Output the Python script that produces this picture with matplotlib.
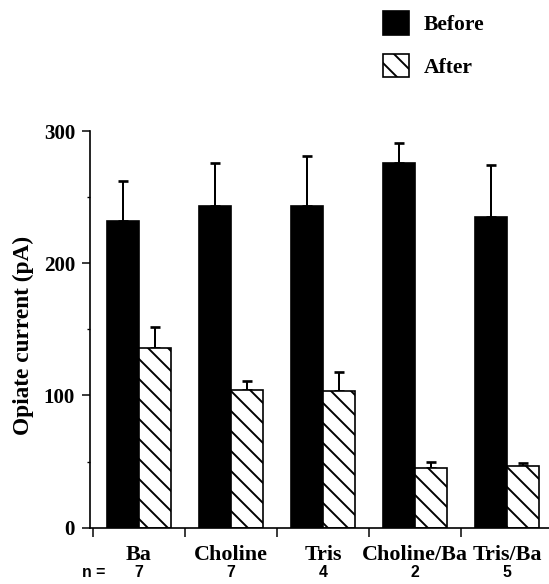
import numpy as np
import matplotlib
matplotlib.use("Agg")
import matplotlib.pyplot as plt
import matplotlib.transforms as mtransforms
from matplotlib.patches import Patch
from matplotlib.ticker import MultipleLocator, FixedLocator, NullFormatter

# Solutions and group sizes
categories = ["Ba", "Choline", "Tris", "Choline/Ba", "Tris/Ba"]
n_cells = [7, 7, 4, 2, 5]

# Opiate current (pA), mean and SEM
before_mean = [232, 243, 243, 276, 235]
before_sem = [30, 33, 38, 15, 39]
after_mean = [136, 104, 103, 45, 47]
after_sem = [16, 7, 15, 5, 2]

DPI = 120
HATCH = "\\\\"
plt.rcParams["hatch.linewidth"] = 1.15
plt.rcParams["hatch.color"] = "black"
serif = ["Liberation Serif", "DejaVu Serif"]
sans = ["Liberation Sans", "DejaVu Sans"]

fig = plt.figure(figsize=(549 / DPI, 584 / DPI), dpi=DPI)
ax = fig.add_axes([90 / 549, 1 - 527.7 / 584, (549 - 90) / 549, (527.7 - 131) / 584])

x = np.arange(len(categories))
w = 0.35
ax.bar(x - w, before_mean, width=w, align="edge", color="black",
       edgecolor="black", linewidth=1.0, zorder=2)
ax.bar(x, after_mean, width=w, align="edge", color="white",
       edgecolor="black", linewidth=1.0, hatch=HATCH, zorder=2)

ax.errorbar(x - w / 2, before_mean, yerr=[np.zeros(len(x)), before_sem],
            fmt="none", ecolor="black", elinewidth=1.2, capsize=3, capthick=1.6, zorder=3)
ax.errorbar(x + w / 2, after_mean, yerr=[np.zeros(len(x)), after_sem],
            fmt="none", ecolor="black", elinewidth=1.2, capsize=3, capthick=1.6, zorder=1)

ax.set_xlim(-0.533, 4.457)
ax.set_ylim(0, 300)

for side in ("top", "right"):
    ax.spines[side].set_visible(False)
for side in ("left", "bottom"):
    ax.spines[side].set_linewidth(1.0)

ax.yaxis.set_major_locator(MultipleLocator(100))
ax.yaxis.set_minor_locator(MultipleLocator(50))
ax.tick_params(axis="y", which="major", direction="out", length=4.8, width=0.9, pad=4.2)
ax.tick_params(axis="y", which="minor", direction="out", length=2.0, width=0.8)
ax.set_yticks([0, 100, 200, 300])
ax.set_yticklabels(["0", "100", "200", "300"], fontfamily=serif,
                   fontweight="bold", fontsize=12.6)

ax.xaxis.set_major_locator(FixedLocator(x - 0.5))
ax.xaxis.set_major_formatter(NullFormatter())
ax.tick_params(axis="x", which="major", direction="out", length=5.4, width=0.9)

# Category names and cell counts under each pair of bars
trans = mtransforms.blended_transform_factory(ax.transData, fig.transFigure)
for xi, name, n in zip(x, categories, n_cells):
    ax.text(xi, 1 - 555.5 / 584, name, transform=trans, ha="center", va="center",
            fontfamily=serif, fontweight="bold", fontsize=13.2, clip_on=False)
    ax.text(xi, 1 - 572.5 / 584, str(n), transform=trans, ha="center", va="center",
            fontfamily=sans, fontweight="bold", fontsize=9.5, clip_on=False)
fig.text(94 / 549, 1 - 572.5 / 584, "n =", ha="center", va="center",
         fontfamily=sans, fontweight="bold", fontsize=9.5)

fig.text(23 / 549, 1 - 335 / 584, "Opiate current (pA)", rotation=90,
         ha="center", va="center", fontfamily=serif, fontweight="bold", fontsize=14)

handles = [Patch(facecolor="black", edgecolor="black", label="Before"),
           Patch(facecolor="white", edgecolor="black", hatch=HATCH, label="After")]
fig.legend(handles=handles, loc="upper left",
           bbox_to_anchor=(383 / 549, 1 - 11 / 584), frameon=False,
           prop={"family": serif, "weight": "bold", "size": 13},
           handlelength=1.2, handleheight=1.31, handletextpad=0.7,
           labelspacing=0.85, borderpad=0, borderaxespad=0)

fig.savefig("out.png", dpi=DPI)
